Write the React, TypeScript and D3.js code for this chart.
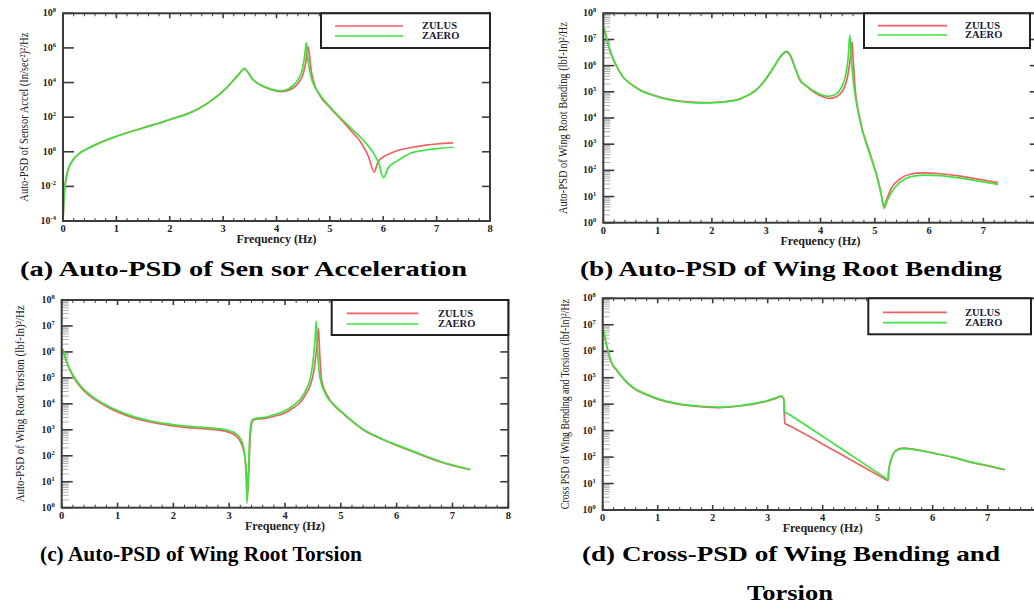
import React from 'react';
import * as d3 from 'd3';

type Pt = [number, number]; // [frequency (Hz), log10 of PSD]

// ---------- (a) Auto-PSD of Sensor Acceleration ----------
const aZulus: Pt[] = [
  [0, -4], [0.01, -3.3], [0.03, -2.2], [0.06, -1.5], [0.1, -1.0], [0.18, -0.5], [0.25, -0.25],
  [0.35, 0], [0.5, 0.25], [0.75, 0.6], [1, 0.9], [1.5, 1.38], [2, 1.86], [2.5, 2.43], [2.8, 3.0],
  [3.05, 3.65], [3.2, 4.15], [3.3, 4.5], [3.36, 4.72], [3.4, 4.8], [3.45, 4.65], [3.55, 4.2],
  [3.7, 3.85], [3.9, 3.58], [4.07, 3.47], [4.2, 3.53], [4.32, 3.7], [4.42, 4.02], [4.5, 4.5],
  [4.55, 5.2], [4.59, 6.08], [4.61, 5.8], [4.64, 4.9], [4.7, 4.0], [4.8, 3.3], [5.0, 2.55],
  [5.2, 1.9], [5.4, 1.2], [5.6, 0.45], [5.72, -0.25], [5.83, -1.17], [5.9, -0.6], [6.0, -0.3],
  [6.13, -0.1], [6.3, 0.1], [6.5, 0.23], [6.8, 0.38], [7.0, 0.45], [7.31, 0.51],
];
const aZaero: Pt[] = [
  [0, -4], [0.01, -3.3], [0.03, -2.2], [0.06, -1.5], [0.1, -1.0], [0.18, -0.5], [0.25, -0.25],
  [0.35, 0], [0.5, 0.24], [0.75, 0.59], [1, 0.89], [1.5, 1.37], [2, 1.85], [2.5, 2.42], [2.8, 3.0],
  [3.05, 3.65], [3.2, 4.15], [3.3, 4.5], [3.36, 4.72], [3.4, 4.8], [3.45, 4.65], [3.55, 4.2],
  [3.7, 3.87], [3.9, 3.62], [4.07, 3.52], [4.2, 3.6], [4.3, 3.8], [4.4, 4.15], [4.48, 4.7],
  [4.53, 5.6], [4.56, 6.3], [4.58, 5.6], [4.62, 4.7], [4.68, 4.0], [4.8, 3.35], [5.0, 2.6],
  [5.2, 1.95], [5.4, 1.35], [5.6, 0.75], [5.8, 0.0], [5.92, -0.7], [6.0, -1.5], [6.1, -0.9],
  [6.26, -0.54], [6.5, -0.1], [6.8, 0.1], [7.0, 0.18], [7.31, 0.26],
];

// ---------- (b) Auto-PSD of Wing Root Bending ----------
const bZulus: Pt[] = [
  [0.02, 7.4], [0.06, 7.05], [0.12, 6.6], [0.18, 6.25], [0.25, 5.96], [0.35, 5.6], [0.49, 5.33],
  [0.7, 5.05], [0.92, 4.88], [1.2, 4.72], [1.41, 4.65], [1.7, 4.6], [1.96, 4.59], [2.2, 4.62],
  [2.46, 4.69], [2.65, 4.85], [2.82, 5.07], [3.0, 5.5], [3.13, 5.9], [3.25, 6.3], [3.33, 6.48],
  [3.38, 6.53], [3.45, 6.35], [3.55, 5.8], [3.62, 5.45], [3.75, 5.2], [3.87, 5.0], [4.0, 4.85],
  [4.17, 4.75], [4.3, 4.82], [4.42, 5.07], [4.5, 5.6], [4.55, 6.3], [4.58, 6.92], [4.6, 6.3],
  [4.63, 5.33], [4.73, 3.93], [4.91, 2.66], [5.05, 1.7], [5.12, 1.1], [5.17, 0.62], [5.22, 0.9],
  [5.3, 1.3], [5.45, 1.65], [5.65, 1.85], [5.9, 1.9], [6.2, 1.87], [6.51, 1.8], [7.0, 1.63],
  [7.27, 1.53],
];
const bZaero: Pt[] = [
  [0.02, 7.42], [0.06, 7.07], [0.12, 6.62], [0.18, 6.27], [0.25, 5.97], [0.35, 5.6], [0.49, 5.32],
  [0.7, 5.03], [0.92, 4.86], [1.2, 4.7], [1.41, 4.63], [1.7, 4.58], [1.96, 4.58], [2.2, 4.61],
  [2.46, 4.69], [2.65, 4.86], [2.82, 5.08], [3.0, 5.52], [3.13, 5.92], [3.25, 6.32], [3.33, 6.5],
  [3.38, 6.55], [3.45, 6.37], [3.55, 5.82], [3.62, 5.47], [3.75, 5.22], [3.87, 5.04], [4.0, 4.9],
  [4.12, 4.83], [4.25, 4.88], [4.38, 5.15], [4.46, 5.6], [4.51, 6.3], [4.54, 7.17], [4.57, 6.2],
  [4.61, 5.3], [4.72, 3.95], [4.9, 2.66], [5.05, 1.68], [5.12, 1.05], [5.17, 0.55], [5.23, 0.85],
  [5.32, 1.2], [5.45, 1.52], [5.65, 1.75], [5.9, 1.82], [6.2, 1.8], [6.51, 1.72], [7.0, 1.56],
  [7.27, 1.46],
];

// ---------- (c) Auto-PSD of Wing Root Torsion ----------
const cZulus: Pt[] = [
  [0.02, 6.1], [0.09, 5.6], [0.18, 5.15], [0.27, 4.83], [0.4, 4.5], [0.57, 4.2], [0.8, 3.9],
  [0.99, 3.7], [1.3, 3.45], [1.58, 3.3], [1.9, 3.18], [2.18, 3.1], [2.5, 3.05], [2.78, 3.0],
  [3.0, 2.9], [3.1, 2.8], [3.2, 2.55], [3.27, 2.1], [3.31, 1.3], [3.33, 0.5], [3.35, 1.3],
  [3.38, 2.8], [3.42, 3.35], [3.5, 3.42], [3.61, 3.43], [3.8, 3.52], [3.97, 3.62], [4.15, 3.85],
  [4.27, 4.05], [4.38, 4.4], [4.45, 4.7], [4.52, 5.3], [4.57, 6.2], [4.6, 6.91], [4.62, 6.0],
  [4.66, 4.86], [4.75, 4.35], [4.87, 3.96], [5.0, 3.7], [5.17, 3.38], [5.4, 3.0], [5.76, 2.62],
  [6.0, 2.4], [6.36, 2.1], [6.8, 1.75], [7.32, 1.46],
];
const cZaero: Pt[] = [
  [0.02, 6.12], [0.09, 5.63], [0.18, 5.19], [0.27, 4.88], [0.4, 4.55], [0.57, 4.25], [0.8, 3.95],
  [0.99, 3.75], [1.3, 3.5], [1.58, 3.35], [1.9, 3.23], [2.18, 3.15], [2.5, 3.1], [2.78, 3.05],
  [3.0, 2.97], [3.1, 2.88], [3.2, 2.66], [3.26, 2.3], [3.3, 1.4], [3.32, 0.18], [3.34, 1.2],
  [3.37, 2.8], [3.41, 3.38], [3.5, 3.45], [3.61, 3.47], [3.8, 3.58], [3.97, 3.7], [4.15, 3.94],
  [4.27, 4.17], [4.38, 4.55], [4.45, 4.95], [4.5, 5.6], [4.54, 6.5], [4.56, 7.19], [4.58, 6.2],
  [4.62, 5.1], [4.72, 4.4], [4.87, 3.98], [5.0, 3.72], [5.17, 3.4], [5.4, 3.02], [5.76, 2.63],
  [6.0, 2.42], [6.36, 2.12], [6.8, 1.77], [7.32, 1.48],
];

// ---------- (d) Cross-PSD of Wing Bending and Torsion ----------
const dZulus: Pt[] = [
  [0.02, 6.74], [0.05, 6.4], [0.1, 5.98], [0.15, 5.6], [0.25, 5.29], [0.4, 4.9], [0.56, 4.6],
  [0.8, 4.35], [1.04, 4.16], [1.3, 4.03], [1.53, 3.95], [1.8, 3.9], [2.13, 3.87], [2.45, 3.92],
  [2.74, 4.0], [3.0, 4.12], [3.15, 4.22], [3.25, 4.29], [3.29, 4.2], [3.31, 3.28], [3.4, 3.18],
  [4.25, 2.2], [5.1, 1.21], [5.19, 1.11], [5.2, 1.5], [5.22, 1.71], [5.26, 2.0], [5.31, 2.21],
  [5.4, 2.32], [5.47, 2.34], [5.7, 2.28], [6.01, 2.15], [6.4, 1.97], [6.68, 1.81], [7.0, 1.67],
  [7.31, 1.52],
];
const dZaero: Pt[] = [
  [0.02, 6.78], [0.05, 6.42], [0.1, 6.0], [0.15, 5.63], [0.25, 5.31], [0.4, 4.92], [0.56, 4.62],
  [0.8, 4.37], [1.04, 4.18], [1.3, 4.05], [1.53, 3.97], [1.8, 3.92], [2.13, 3.89], [2.45, 3.93],
  [2.74, 4.02], [3.0, 4.14], [3.15, 4.24], [3.25, 4.31], [3.29, 4.22], [3.31, 3.72], [3.4, 3.6],
  [4.25, 2.44], [5.1, 1.27], [5.19, 1.15], [5.2, 1.5], [5.22, 1.73], [5.26, 2.02], [5.31, 2.2],
  [5.4, 2.3], [5.47, 2.32], [5.7, 2.27], [6.01, 2.15], [6.4, 1.98], [6.68, 1.82], [7.0, 1.68],
  [7.31, 1.53],
];

const seriesNames = ['ZULUS', 'ZAERO'];
const xTicks = [0, 1, 2, 3, 4, 5, 6, 7, 8];
const xTitle = 'Frequency (Hz)';

const COLORS = ['#f06262', '#3fe33f'];
const SERIF = "'Liberation Serif', 'Times New Roman', Times, serif";

type PanelSpec = {
  id: string;
  x0: number; x1: number; yTop: number; yBot: number;
  yMin: number; yMax: number; yStep: number; minorY: boolean;
  zulus: Pt[]; zaero: Pt[];
  yTitle: string; yTitleX: number; yTitleLen: number;
  legendLeft: number; legendRight: number; legendBottom: number;
  legLineX0: number; legLineX1: number; legY1: number; legY2: number; legTextX: number;
};

const panels: PanelSpec[] = [
  {
    id: 'a', x0: 63, x1: 490, yTop: 13.3, yBot: 221, yMin: -4, yMax: 8, yStep: 2, minorY: false,
    zulus: aZulus, zaero: aZaero,
    yTitle: 'Auto-PSD of Sensor Accel (In/sec²)²/Hz', yTitleX: 24, yTitleLen: 169,
    legendLeft: 321, legendRight: 490, legendBottom: 48,
    legLineX0: 335, legLineX1: 403, legY1: 26, legY2: 36, legTextX: 422,
  },
  {
    id: 'b', x0: 603.3, x1: 1037.7, yTop: 13.3, yBot: 222.7, yMin: 0, yMax: 8, yStep: 1, minorY: true,
    zulus: bZulus, zaero: bZaero,
    yTitle: 'Auto-PSD of Wing Root Bending (lbf-In)²/Hz', yTitleX: 563, yTitleLen: 192,
    legendLeft: 864, legendRight: 1030, legendBottom: 48,
    legLineX0: 878, legLineX1: 947, legY1: 25.7, legY2: 35, legTextX: 965,
  },
  {
    id: 'c', x0: 61.7, x1: 508.3, yTop: 300, yBot: 507.7, yMin: 0, yMax: 8, yStep: 1, minorY: true,
    zulus: cZulus, zaero: cZaero,
    yTitle: 'Auto-PSD of Wing Root Torsion (lbf-In)²/Hz', yTitleX: 20, yTitleLen: 197,
    legendLeft: 331.7, legendRight: 508.3, legendBottom: 335,
    legLineX0: 346.7, legLineX1: 418.3, legY1: 313.3, legY2: 324, legTextX: 438,
  },
  {
    id: 'd', x0: 602.7, x1: 1042.7, yTop: 298.3, yBot: 510, yMin: 0, yMax: 8, yStep: 1, minorY: true,
    zulus: dZulus, zaero: dZaero,
    yTitle: 'Cross PSD of Wing Bending and Torsion (lbf-In)²/Hz', yTitleX: 565, yTitleLen: 210,
    legendLeft: 868.3, legendRight: 1031, legendBottom: 334.3,
    legLineX0: 883, legLineX1: 946.7, legY1: 312.3, legY2: 322.7, legTextX: 965,
  },
];

type Caption = { text: string; x: number; y: number; len: number };
const captions: Caption[] = [
  { text: '(a) Auto-PSD of Sen sor Acceleration', x: 20, y: 276, len: 447 },
  { text: '(b) Auto-PSD of Wing Root Bending', x: 580, y: 276, len: 422 },
  { text: '(c) Auto-PSD of Wing Root Torsion', x: 40, y: 561, len: 322 },
  { text: '(d) Cross-PSD of Wing Bending and', x: 582, y: 561, len: 418 },
  { text: 'Torsion', x: 747, y: 600, len: 86 },
];

function Panel({ s }: { s: PanelSpec }) {
  const x = d3.scaleLinear().domain([0, 8]).range([s.x0, s.x1]);
  const y = d3.scaleLog().domain([10 ** s.yMin, 10 ** s.yMax]).range([s.yBot, s.yTop]);
  const line = d3
    .line<Pt>()
    .x((d) => x(d[0]))
    .y((d) => y(10 ** d[1]))
    .curve(d3.curveMonotoneX);

  const majorExps = d3.range(s.yMin, s.yMax + 0.001, s.yStep);
  const minorVals: number[] = [];
  if (s.minorY) {
    for (let e = s.yMin; e < s.yMax; e++) {
      for (let m = 2; m <= 9; m++) minorVals.push(m * 10 ** e);
    }
  }
  const xMinor = d3.range(0, 8.001, 0.2).filter((v) => Math.abs(v - Math.round(v)) > 0.01);
  const axisColor = '#3c3c3c';
  const clipId = `clip-${s.id}`;
  const yMid = (s.yTop + s.yBot) / 2;

  return (
    <g>
      <defs>
        <clipPath id={clipId}>
          <rect x={s.x0} y={s.yTop} width={s.x1 - s.x0} height={s.yBot - s.yTop} />
        </clipPath>
      </defs>
      {minorVals.map((v, i) => (
        <line key={`my${i}`} x1={s.x0} x2={s.x0 + 7} y1={y(v)} y2={y(v)} stroke="#9a9a9a" strokeWidth={0.8} />
      ))}
      {majorExps.map((e) => (
        <g key={`y${e}`}>
          <line x1={s.x0} x2={s.x0 + 11} y1={y(10 ** e)} y2={y(10 ** e)} stroke={axisColor} strokeWidth={1.6} />
          <line x1={s.x1} x2={s.x1 - 8} y1={y(10 ** e)} y2={y(10 ** e)} stroke={axisColor} strokeWidth={1.6} />
          <text
            x={s.x0 - 7}
            y={y(10 ** e) + 3}
            textAnchor="end"
            fontFamily={SERIF}
            fontWeight="bold"
            fontSize={10}
            fill="#222"
          >
            10
            <tspan dy={-4} fontSize={6.5}>{e}</tspan>
          </text>
        </g>
      ))}
      {xTicks.map((t) => (
        <g key={`x${t}`}>
          <line x1={x(t)} x2={x(t)} y1={s.yBot} y2={s.yBot - 5} stroke={axisColor} strokeWidth={1.6} />
          <line x1={x(t)} x2={x(t)} y1={s.yTop} y2={s.yTop + 5} stroke={axisColor} strokeWidth={1.6} />
          <text x={x(t)} y={s.yBot + 11} textAnchor="middle" fontFamily={SERIF} fontWeight="bold" fontSize={10.5} fill="#222">
            {t}
          </text>
        </g>
      ))}
      {xMinor.map((t, i) => (
        <g key={`xm${i}`}>
          <line x1={x(t)} x2={x(t)} y1={s.yBot} y2={s.yBot - 3} stroke={axisColor} strokeWidth={1} />
          <line x1={x(t)} x2={x(t)} y1={s.yTop} y2={s.yTop + 3} stroke={axisColor} strokeWidth={1} />
        </g>
      ))}
      <g clipPath={`url(#${clipId})`}>
        <path d={line(s.zulus) ?? ''} fill="none" stroke={COLORS[0]} strokeWidth={1.7} strokeLinejoin="round" />
        <path d={line(s.zaero) ?? ''} fill="none" stroke={COLORS[1]} strokeWidth={1.7} strokeLinejoin="round" />
      </g>
      <rect x={s.x0} y={s.yTop} width={s.x1 - s.x0} height={s.yBot - s.yTop} fill="none" stroke={axisColor} strokeWidth={2} />
      <rect
        x={s.legendLeft}
        y={s.yTop}
        width={s.legendRight - s.legendLeft}
        height={s.legendBottom - s.yTop}
        fill="white"
        stroke="#222"
        strokeWidth={2}
      />
      {seriesNames.map((n, i) => {
        const ly = i === 0 ? s.legY1 : s.legY2;
        return (
          <g key={n}>
            <line x1={s.legLineX0} x2={s.legLineX1} y1={ly} y2={ly} stroke={COLORS[i]} strokeWidth={1.7} />
            <text x={s.legTextX} y={ly + 3.3} fontFamily={SERIF} fontWeight="bold" fontSize={10.5} fill="#1a1a3a">
              {n}
            </text>
          </g>
        );
      })}
      <text
        x={(s.x0 + s.x1) / 2}
        y={s.yBot + 22}
        textAnchor="middle"
        fontFamily={SERIF}
        fontWeight="bold"
        fontSize={12}
        fill="#222"
      >
        {xTitle}
      </text>
      <text
        transform={`translate(${s.yTitleX},${yMid}) rotate(-90)`}
        textAnchor="middle"
        dominantBaseline="central"
        fontFamily={SERIF}
        fontSize={12.5}
        textLength={s.yTitleLen}
        lengthAdjust="spacingAndGlyphs"
        fill="#222"
      >
        {s.yTitle}
      </text>
    </g>
  );
}

export default function App() {
  return (
    <svg
      width={1034}
      height={609}
      viewBox="0 0 1034 609"
      style={{ position: 'absolute', left: 0, top: 0, background: 'white' }}
    >
      <rect x={0} y={0} width={1034} height={609} fill="white" />
      {panels.map((p) => (
        <Panel key={p.id} s={p} />
      ))}
      {captions.map((c, i) => (
        <text
          key={i}
          x={c.x}
          y={c.y}
          fontFamily={SERIF}
          fontWeight="bold"
          fontSize={22}
          textLength={c.len}
          lengthAdjust="spacingAndGlyphs"
          fill="#000"
        >
          {c.text}
        </text>
      ))}
    </svg>
  );
}
